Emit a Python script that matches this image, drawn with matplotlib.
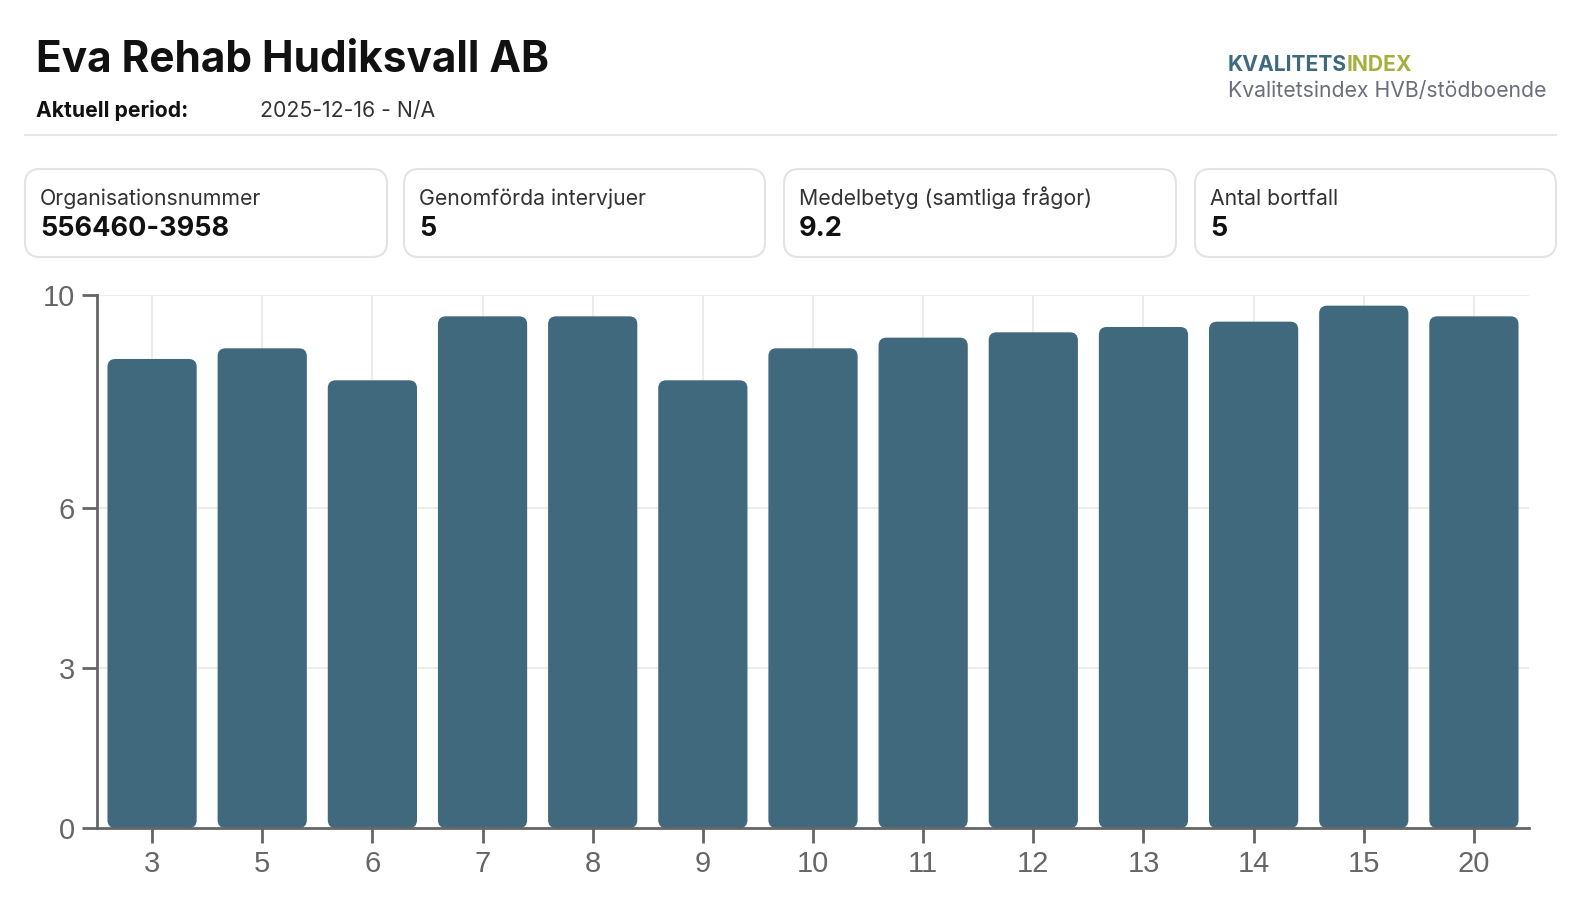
import matplotlib
matplotlib.use("Agg")
import matplotlib.pyplot as plt
from matplotlib.patches import FancyBboxPatch
from matplotlib.lines import Line2D

# data
categories = ["3", "5", "6", "7", "8", "9", "10", "11", "12", "13", "14", "15", "20"]
scores = [8.8, 9.0, 8.4, 9.6, 9.6, 8.4, 9.0, 9.2, 9.3, 9.4, 9.5, 9.8, 9.6]
y_ticks = [0, 3, 6, 10]

company = "Eva Rehab Hudiksvall AB"
period_label = "Aktuell period:"
period_value = "2025-12-16 - N/A"
brand_parts = ["KVALITETS", "INDEX"]
brand_subtitle = "Kvalitetsindex HVB/stödboende"
card_labels = ["Organisationsnummer", "Genomförda intervjuer",
               "Medelbetyg (samtliga frågor)", "Antal bortfall"]
card_values = ["556460-3958", "5", "9.2", "5"]

bar_color = "#41697d"
axis_color = "#666666"

plt.rcParams['font.family'] = ['Inter', 'DejaVu Sans']

W, H = 1580, 914
fig = plt.figure(figsize=(W / 100, H / 100), dpi=100)


def fx(x):
    return x / W


def fy(y):
    return 1 - y / H


# header
fig.text(fx(36), fy(72), company, fontsize=30.5, fontweight='bold', color='#111111', va='baseline')
fig.text(fx(36), fy(117), period_label, fontsize=15.2, fontweight='bold', color='#111111', va='baseline')
fig.text(fx(260), fy(117), period_value, fontsize=15.3, color='#333333', va='baseline')

t1 = fig.text(fx(1228), fy(71), brand_parts[0], fontsize=15.2, fontweight='bold',
              color='#3e6a80', va='baseline')
fig.canvas.draw()
ext = t1.get_window_extent()
fig.text(ext.x1 / W, fy(71), brand_parts[1], fontsize=15.2, fontweight='bold',
         color='#a4b13f', va='baseline')
fig.text(fx(1228), fy(97), brand_subtitle, fontsize=15.25, color='#6b6f7b', va='baseline')

fig.add_artist(Line2D([fx(25), fx(1556)], [fy(135), fy(135)], color='#e6e6e6', lw=1.5))

# cards
card_x = [(25, 387), (404, 765), (784, 1176), (1195, 1556)]
r = 15
for (x0, x1), lab, val in zip(card_x, card_labels, card_values):
    box = FancyBboxPatch((fx(x0), fy(257)), fx(x1) - fx(x0), fy(169) - fy(257),
                         boxstyle=f"round,pad=0,rounding_size={r / W}",
                         mutation_aspect=W / H, transform=fig.transFigure,
                         fc='white', ec='#e3e3e3', lw=1.5)
    fig.add_artist(box)
    fig.text(fx(x0 + 15), fy(205), lab, fontsize=15.3, color='#333333', va='baseline')
    fig.text(fx(x0 + 15), fy(236), val, fontsize=19.5, fontweight='bold', color='#111111', va='baseline')

# chart
ax = fig.add_axes([fx(97), fy(828), fx(1529) - fx(97), fy(295) - fy(828)])
ax.set_xlim(-0.5, len(categories) - 0.5)
ax.set_ylim(0, 10)
ax.set_axisbelow(True)
ax.grid(True, color='#ececec', lw=1.5)

pos = list(range(len(categories)))
bars = ax.bar(pos, scores, width=0.81, color=bar_color)
px_x = ax.bbox.width / len(categories)
px_y = ax.bbox.height / 10
rad = 8 / px_x
for b in bars:
    b.set_visible(False)
    ax.add_patch(FancyBboxPatch((b.get_x(), b.get_y()), b.get_width(), b.get_height(),
                                boxstyle=f"round,pad=0,rounding_size={rad}",
                                mutation_aspect=px_x / px_y, fc=bar_color, ec='none'))

ax.set_xticks(pos)
ax.set_xticklabels(categories)
ax.set_yticks(y_ticks)
for s in ['top', 'right']:
    ax.spines[s].set_visible(False)
for s in ['left', 'bottom']:
    ax.spines[s].set_color(axis_color)
    ax.spines[s].set_linewidth(2)
ax.tick_params(length=11, width=2, color=axis_color, labelcolor=axis_color,
               labelsize=21, pad=5)
for lbl in ax.get_xticklabels() + ax.get_yticklabels():
    lbl.set_family(['Liberation Sans', 'DejaVu Sans'])

fig.savefig("out.png", dpi=100)
